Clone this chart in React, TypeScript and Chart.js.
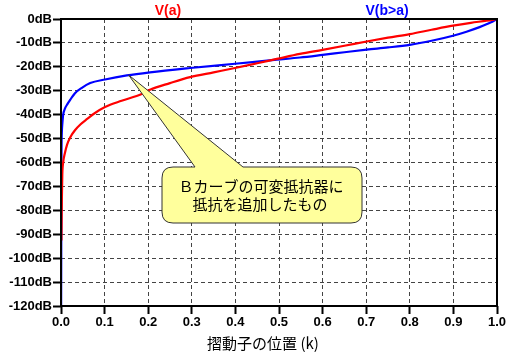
import React, { useEffect, useRef } from 'react';
import { Chart, registerables } from 'chart.js';

Chart.register(...registerables);

// ---- data ----
const redX = [0.001, 0.002, 0.003, 0.005, 0.009, 0.014, 0.021, 0.032, 0.045, 0.06, 0.078, 0.101, 0.139, 0.185, 0.204, 0.25, 0.296, 0.35, 0.399, 0.45, 0.495, 0.548, 0.6, 0.65, 0.701, 0.75, 0.8, 0.85, 0.899, 0.94, 0.976, 1.0];
const redDb = [-92.6, -75, -65, -60, -56, -52.5, -49.5, -46.5, -44, -41.8, -39.3, -36.8, -34.2, -31.4, -29.6, -26.8, -24.3, -22.3, -20.5, -18.5, -16.7, -14.6, -12.9, -11.2, -9.4, -7.8, -6.3, -4.5, -2.8, -1.6, -0.7, 0];

const blueX = [0.0003, 0.001, 0.002, 0.003, 0.005, 0.009, 0.015, 0.021, 0.032, 0.047, 0.067, 0.101, 0.151, 0.204, 0.296, 0.399, 0.495, 0.548, 0.6, 0.65, 0.701, 0.75, 0.8, 0.85, 0.899, 0.93, 0.96, 0.985, 1.0];
const blueDb = [-120, -60, -47, -44, -40, -37.5, -35.5, -33.8, -31, -28.9, -26.8, -25.3, -23.6, -22.3, -20.5, -18.7, -17.0, -16.1, -15.0, -13.9, -12.8, -11.9, -10.8, -9.1, -7.0, -5.3, -3.4, -1.5, 0];

const xTicks = [0, 0.1, 0.2, 0.3, 0.4, 0.5, 0.6, 0.7, 0.8, 0.9, 1.0];
const yTicks = [0, -10, -20, -30, -40, -50, -60, -70, -80, -90, -100, -110, -120];
const seriesNames = ['V(a)', 'V(b>a)'];
const seriesColors = ['#ff0000', '#0000ff'];
const xTitle = '摺動子の位置 (k)';
const noteLines = ['Ｂカーブの可変抵抗器に', '抵抗を追加したもの'];
const noteAnchor = { x: 0.155, y: -23.4 };

const decoPlugin = {
  id: 'deco',
  afterDatasetsDraw(chart: any) {
    const { ctx, chartArea: a, scales } = chart;
    const xs = scales.x;
    const ys = scales.y;
    ctx.save();
    // plot frame
    ctx.strokeStyle = '#000';
    ctx.lineWidth = 2;
    ctx.strokeRect(a.left, a.top, a.right - a.left, a.bottom - a.top);

    // callout
    const tipX = xs.getPixelForValue(noteAnchor.x);
    const tipY = ys.getPixelForValue(noteAnchor.y);
    const L = 162, R = 362, T = 167, B = 223, r = 11;
    const b1 = 195, b2 = 243;
    ctx.beginPath();
    ctx.moveTo(L + r, T);
    ctx.lineTo(b1, T);
    ctx.lineTo(tipX, tipY);
    ctx.lineTo(b2, T);
    ctx.lineTo(R - r, T);
    ctx.quadraticCurveTo(R, T, R, T + r);
    ctx.lineTo(R, B - r);
    ctx.quadraticCurveTo(R, B, R - r, B);
    ctx.lineTo(L + r, B);
    ctx.quadraticCurveTo(L, B, L, B - r);
    ctx.lineTo(L, T + r);
    ctx.quadraticCurveTo(L, T, L + r, T);
    ctx.closePath();
    ctx.fillStyle = '#ffff9c';
    ctx.fill();
    ctx.lineWidth = 1;
    ctx.strokeStyle = '#333';
    ctx.stroke();

    ctx.fillStyle = '#000';
    ctx.font = '15px "Noto Sans CJK JP"';
    ctx.textAlign = 'center';
    ctx.textBaseline = 'middle';
    ctx.fillText(noteLines[0], 261, 186);
    ctx.fillText(noteLines[1], 260, 204);
    ctx.restore();
  },
  afterDraw(chart: any) {
    const { ctx } = chart;
    ctx.save();
    ctx.textAlign = 'center';
    ctx.textBaseline = 'middle';
    ctx.font = 'bold 14px "Liberation Sans"';
    ctx.fillStyle = seriesColors[0];
    ctx.fillText(seriesNames[0], 168, 11);
    ctx.fillStyle = seriesColors[1];
    ctx.fillText(seriesNames[1], 387, 11);
    ctx.fillStyle = '#000';
    ctx.font = '15px "Noto Sans CJK JP"';
    ctx.fillText(xTitle, 263, 343);
    ctx.restore();
  },
};

export default function App() {
  const ref = useRef<HTMLCanvasElement | null>(null);
  useEffect(() => {
    if (!ref.current) return;
    const chart = new Chart(ref.current, {
      type: 'line',
      data: {
        datasets: [
          {
            label: seriesNames[0],
            data: redX.map((x, i) => ({ x, y: redDb[i] })),
            borderColor: seriesColors[0],
            borderWidth: 2.2,
            pointRadius: 0,
            cubicInterpolationMode: 'monotone',
          },
          {
            label: seriesNames[1],
            data: blueX.map((x, i) => ({ x, y: blueDb[i] })),
            borderColor: seriesColors[1],
            borderWidth: 2.2,
            pointRadius: 0,
            cubicInterpolationMode: 'monotone',
          },
        ],
      },
      options: {
        animation: false,
        responsive: false,
        events: [],
        layout: { padding: { top: 19, right: 16, left: 0, bottom: 0 } },
        plugins: { legend: { display: false }, tooltip: { enabled: false } },
        scales: {
          x: {
            type: 'linear',
            min: 0,
            max: 1,
            afterBuildTicks: (s: any) => {
              s.ticks = xTicks.map((v) => ({ value: v }));
            },
            afterFit: (s: any) => {
              s.height = 49;
            },
            ticks: {
              color: '#000',
              padding: 1,
              maxRotation: 0,
              autoSkip: false,
              font: { family: 'Liberation Sans', weight: 'bold', size: 13 },
              callback: (v: any) => Number(v).toFixed(1),
            },
            grid: {
              color: '#444',
              lineWidth: 1,
              tickLength: 8,
              tickColor: '#000',
              tickWidth: 2,
            },
            border: { display: false, dash: [4, 3] },
          },
          y: {
            type: 'linear',
            min: -120,
            max: 0,
            afterBuildTicks: (s: any) => {
              s.ticks = yTicks.map((v) => ({ value: v }));
            },
            afterFit: (s: any) => {
              s.width = 61;
            },
            ticks: {
              color: '#000',
              padding: 1,
              autoSkip: false,
              font: { family: 'Liberation Sans', weight: 'bold', size: 13 },
              callback: (v: any) => `${v}dB`,
            },
            grid: {
              color: '#444',
              lineWidth: 1,
              tickLength: 8,
              tickColor: '#000',
              tickWidth: 2,
            },
            border: { display: false, dash: [4, 3] },
          },
        },
      },
      plugins: [decoPlugin],
    } as any);
    return () => chart.destroy();
  }, []);
  return (
    <div style={{ position: 'absolute', left: 0, top: 0, width: 513, height: 355, background: '#fff' }}>
      <canvas ref={ref} width={513} height={355} style={{ width: 513, height: 355, display: 'block' }} />
    </div>
  );
}
